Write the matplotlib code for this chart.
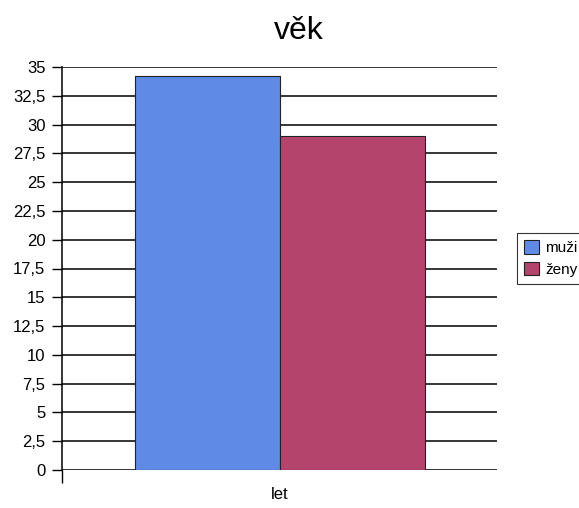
import matplotlib
matplotlib.use("Agg")
import matplotlib.pyplot as plt
import numpy as np

plt.rcParams['font.family'] = ['Liberation Sans', 'DejaVu Sans']

title = "věk"
category = "let"
series = ["muži", "ženy"]
values = [34.25, 29.0]
colors = ["#5f8ae6", "#b5446c"]
yticks = [0, 2.5, 5, 7.5, 10, 12.5, 15, 17.5, 20, 22.5, 25, 27.5, 30, 32.5, 35]

fig = plt.figure(figsize=(5.79, 5.08), dpi=100)
ax = fig.add_axes([62/579, 1-470/508, (497-62)/579, (470-67)/508])

width = 1.0
offsets = [-width/2, width/2]
for name, val, col, off in zip(series, values, colors, offsets):
    ax.bar(off, val, width=width, color=col, edgecolor="#222222",
           linewidth=0.8, label=name, zorder=3)

ax.set_xlim(-1.5, 1.5)
ax.set_ylim(0, 35)
ax.set_yticks(yticks)
ax.set_yticklabels([f"{t:g}".replace(".", ",") for t in yticks], fontsize=12)
ax.yaxis.grid(True, color="black", linewidth=1.1)
ax.set_axisbelow(True)

ax.set_xticks([0])
ax.set_xticklabels([category], fontsize=12)
ax.tick_params(axis="x", length=0, pad=12)
ax.set_xticks([-1.5], minor=True)
ax.tick_params(axis="x", which="minor", length=9, width=1.0, color="black", direction="out")
ax.tick_params(axis="y", length=7, width=1.0, color="black", direction="out", pad=5)

for s in ["top", "right", "bottom"]:
    ax.spines[s].set_visible(False)
ax.spines["left"].set_linewidth(1.1)

fig.text(299/579, 1-31/508, title, ha="center", va="center", fontsize=23)

leg = fig.legend(loc="upper left", bbox_to_anchor=(517/579, 1-233/508),
                 fontsize=11, frameon=True, fancybox=False, edgecolor="black",
                 handlelength=1.0, handleheight=1.0, handletextpad=0.4,
                 borderpad=0.45, labelspacing=0.45, borderaxespad=0)
leg.get_frame().set_linewidth(0.8)

fig.savefig("out.png", dpi=100)
